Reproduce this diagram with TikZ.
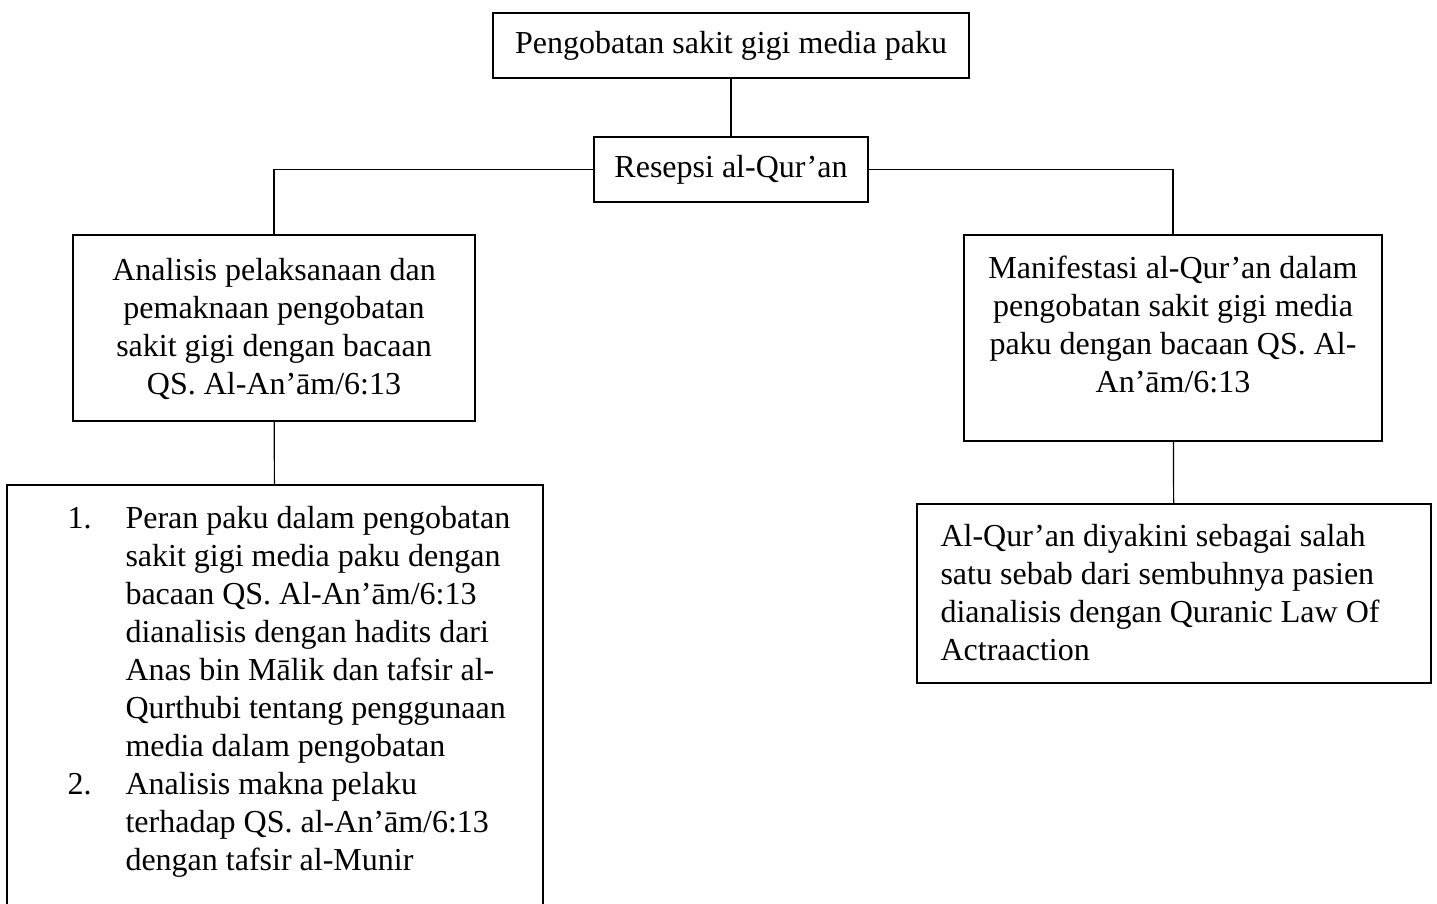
\documentclass[tikz,border=0pt]{standalone}
\usepackage{fontspec}
\setmainfont{Liberation Serif}
\usepackage{tikz}
\usetikzlibrary{positioning}
\tikzset{
    kotak/.style={draw, line width=0.7pt, inner sep=0pt},
    teks/.style={inner sep=0pt, font=\fontsize{12pt}{14.25pt}\selectfont},
    garis/.style={line width=0.45pt}
}
\begin{document}
\begin{tikzpicture}[x=0.375pt, y=-0.375pt]
        \useasboundingbox (0,0) rectangle (1437,904);
        \clip (0,0) rectangle (1437,904);
        \node[kotak, teks, minimum width=178.5pt, minimum height=24.4pt] (judul) at (731,45.5) {Pengobatan sakit gigi media paku};
        \node[kotak, teks, minimum width=102.75pt, minimum height=24.4pt] (resepsi) at (731,169.5) {Resepsi al-Qur’an};
        \node[kotak, minimum width=150.75pt, minimum height=69.75pt] (analisis) at (274,328) {};
        \node[kotak, minimum width=156.75pt, minimum height=77.25pt] (manifestasi) at (1173,338) {};
        \node[kotak, minimum width=201pt, minimum height=170.6pt] (peran) at (275,712.5) {};
        \node[kotak, minimum width=192.75pt, minimum height=67.1pt] (yakin) at (1174,593.5) {};
        \node[teks, align=center, anchor=north] (tanalisis) at (274,258) {Analisis pelaksanaan dan\\pemaknaan pengobatan\\sakit gigi dengan bacaan\\QS. Al-An’ām/6:13};
        \node[teks, align=center, anchor=north] (tmanifestasi) at (1173,255) {Manifestasi al-Qur’an dalam\\pengobatan sakit gigi media\\paku dengan bacaan QS. Al-\\An’ām/6:13};
        \node[teks, align=left, anchor=north west] (tyakin) at (940,524) {Al-Qur’an diyakini sebagai salah\\satu sebab dari sembuhnya pasien\\dianalisis dengan Quranic Law Of\\Actraaction};
        \node[teks, anchor=north west] (tperan) at (67,501) {\begin{tabular}{@{}p{21.75pt}@{}l@{}}
            1. & Peran paku dalam pengobatan\\
               & sakit gigi media paku dengan\\
               & bacaan QS. Al-An’ām/6:13\\
               & dianalisis dengan hadits dari\\
               & Anas bin Mālik dan tafsir al-\\
               & Qurthubi tentang penggunaan\\
               & media dalam pengobatan\\
            2. & Analisis makna pelaku\\
               & terhadap QS. al-An’ām/6:13\\
               & dengan tafsir al-Munir
        \end{tabular}};
        \draw[garis] (judul) -- (resepsi);
        \draw[garis] (resepsi.west) -| (analisis.north);
        \draw[garis] (resepsi.east) -| (manifestasi.north);
        \draw[garis] (analisis) -- (peran);
        \draw[garis] (manifestasi) -- (yakin);
    \end{tikzpicture}
\end{document}
